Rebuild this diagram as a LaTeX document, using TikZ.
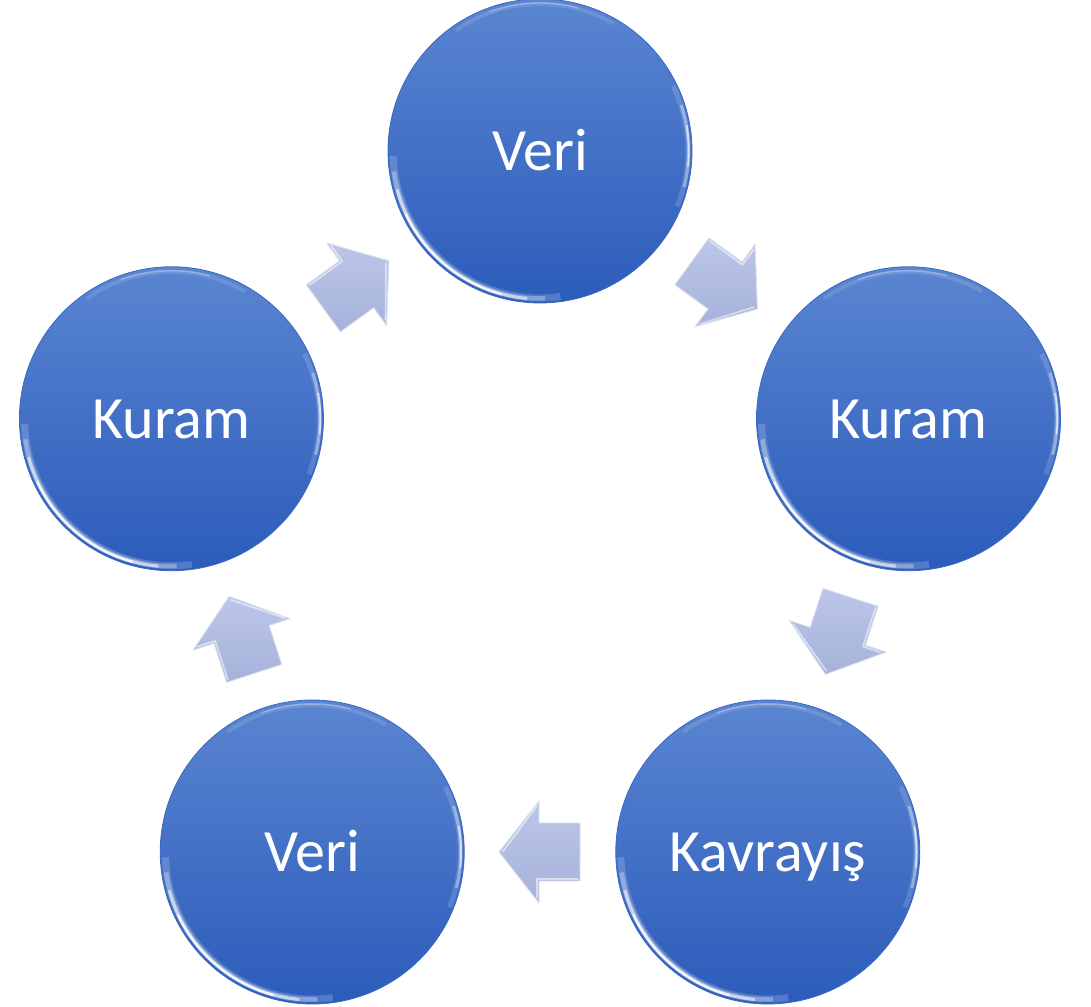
\documentclass[tikz,border=0pt]{standalone}
\usepackage{fontspec}
\setmainfont{Carlito}
\usetikzlibrary{calc}
\definecolor{ctop}{HTML}{5A85D1}
\definecolor{cbot}{HTML}{2C5CBB}
\definecolor{crim}{HTML}{3A68C2}
\definecolor{atop}{HTML}{BCC6E8}
\definecolor{abot}{HTML}{A6B2DA}
\tikzset{
  bubble/.style={circle, minimum size=304pt, inner sep=0pt,
    top color=ctop, bottom color=cbot, draw=crim, line width=0.8pt,
    text=white, font=\fontsize{60}{72}\selectfont,
    text height=38.6pt, text depth=0pt},
  hl/.style={white, line cap=butt},
  blk/.style={top color=atop, bottom color=abot, draw=white!60!abot,
    line width=0.9pt, line join=round},
  blkhl/.style={white, opacity=0.55, line width=1.6pt, line join=round},
  pics/blkarrow/.style={code={
    \path[blk] (-40,-29) -- (1,-29) -- (1,-51) -- (41,0) -- (1,51)
      -- (1,29) -- (-40,29) -- cycle;
    \draw[blkhl] (-38,27) -- (3,27) -- (3,46.5) (3,-46.5) -- (37.5,0);
  }}
}
\newcommand\gloss[1]{%
  \foreach \a/\b/\w/\o/\r in {182/278/7pt/0.18/147, 188/272/4.5pt/0.3/147.5,
      195/265/3pt/0.55/148, 205/255/2pt/0.85/148.3,
      -22/26/5pt/0.15/148, -14/18/3pt/0.35/148.5, -6/10/1.8pt/0.6/148.8,
      60/125/4pt/0.12/147, 75/110/1.5pt/0.28/148}{%
    \draw[hl, line width=\w, opacity=\o]
      ([shift={(#1.center)}]\a:\r) arc[start angle=\a, end angle=\b, radius=\r];
  }%
}
\begin{document}
\begin{tikzpicture}[x=1pt, y=1pt]
  \useasboundingbox (0,0) rectangle (1091,1006);
  \coordinate (o) at (540,467.5);
  \node[bubble] (n1) at ($(o)+(90:387.5)$)  {Veri};
  \node[bubble] (n2) at ($(o)+(18:387.5)$)  {Kuram};
  \node[bubble] (n3) at ($(o)+(-54:387.5)$) {Kavrayış};
  \node[bubble] (n4) at ($(o)+(234:387.5)$) {Veri};
  \node[bubble] (n5) at ($(o)+(162:387.5)$) {Kuram};
  \gloss{n1}\gloss{n2}\gloss{n3}\gloss{n4}\gloss{n5}
  \pic[rotate=-36]  at ($(n1.center)!0.5!(n2.center)$) {blkarrow};
  \pic[rotate=-108] at ($(n2.center)!0.5!(n3.center)$) {blkarrow};
  \pic[rotate=180]  at ($(n3.center)!0.5!(n4.center)$) {blkarrow};
  \pic[rotate=108]  at ($(n4.center)!0.5!(n5.center)$) {blkarrow};
  \pic[rotate=36]   at ($(n5.center)!0.5!(n1.center)$) {blkarrow};
\end{tikzpicture}
\end{document}
